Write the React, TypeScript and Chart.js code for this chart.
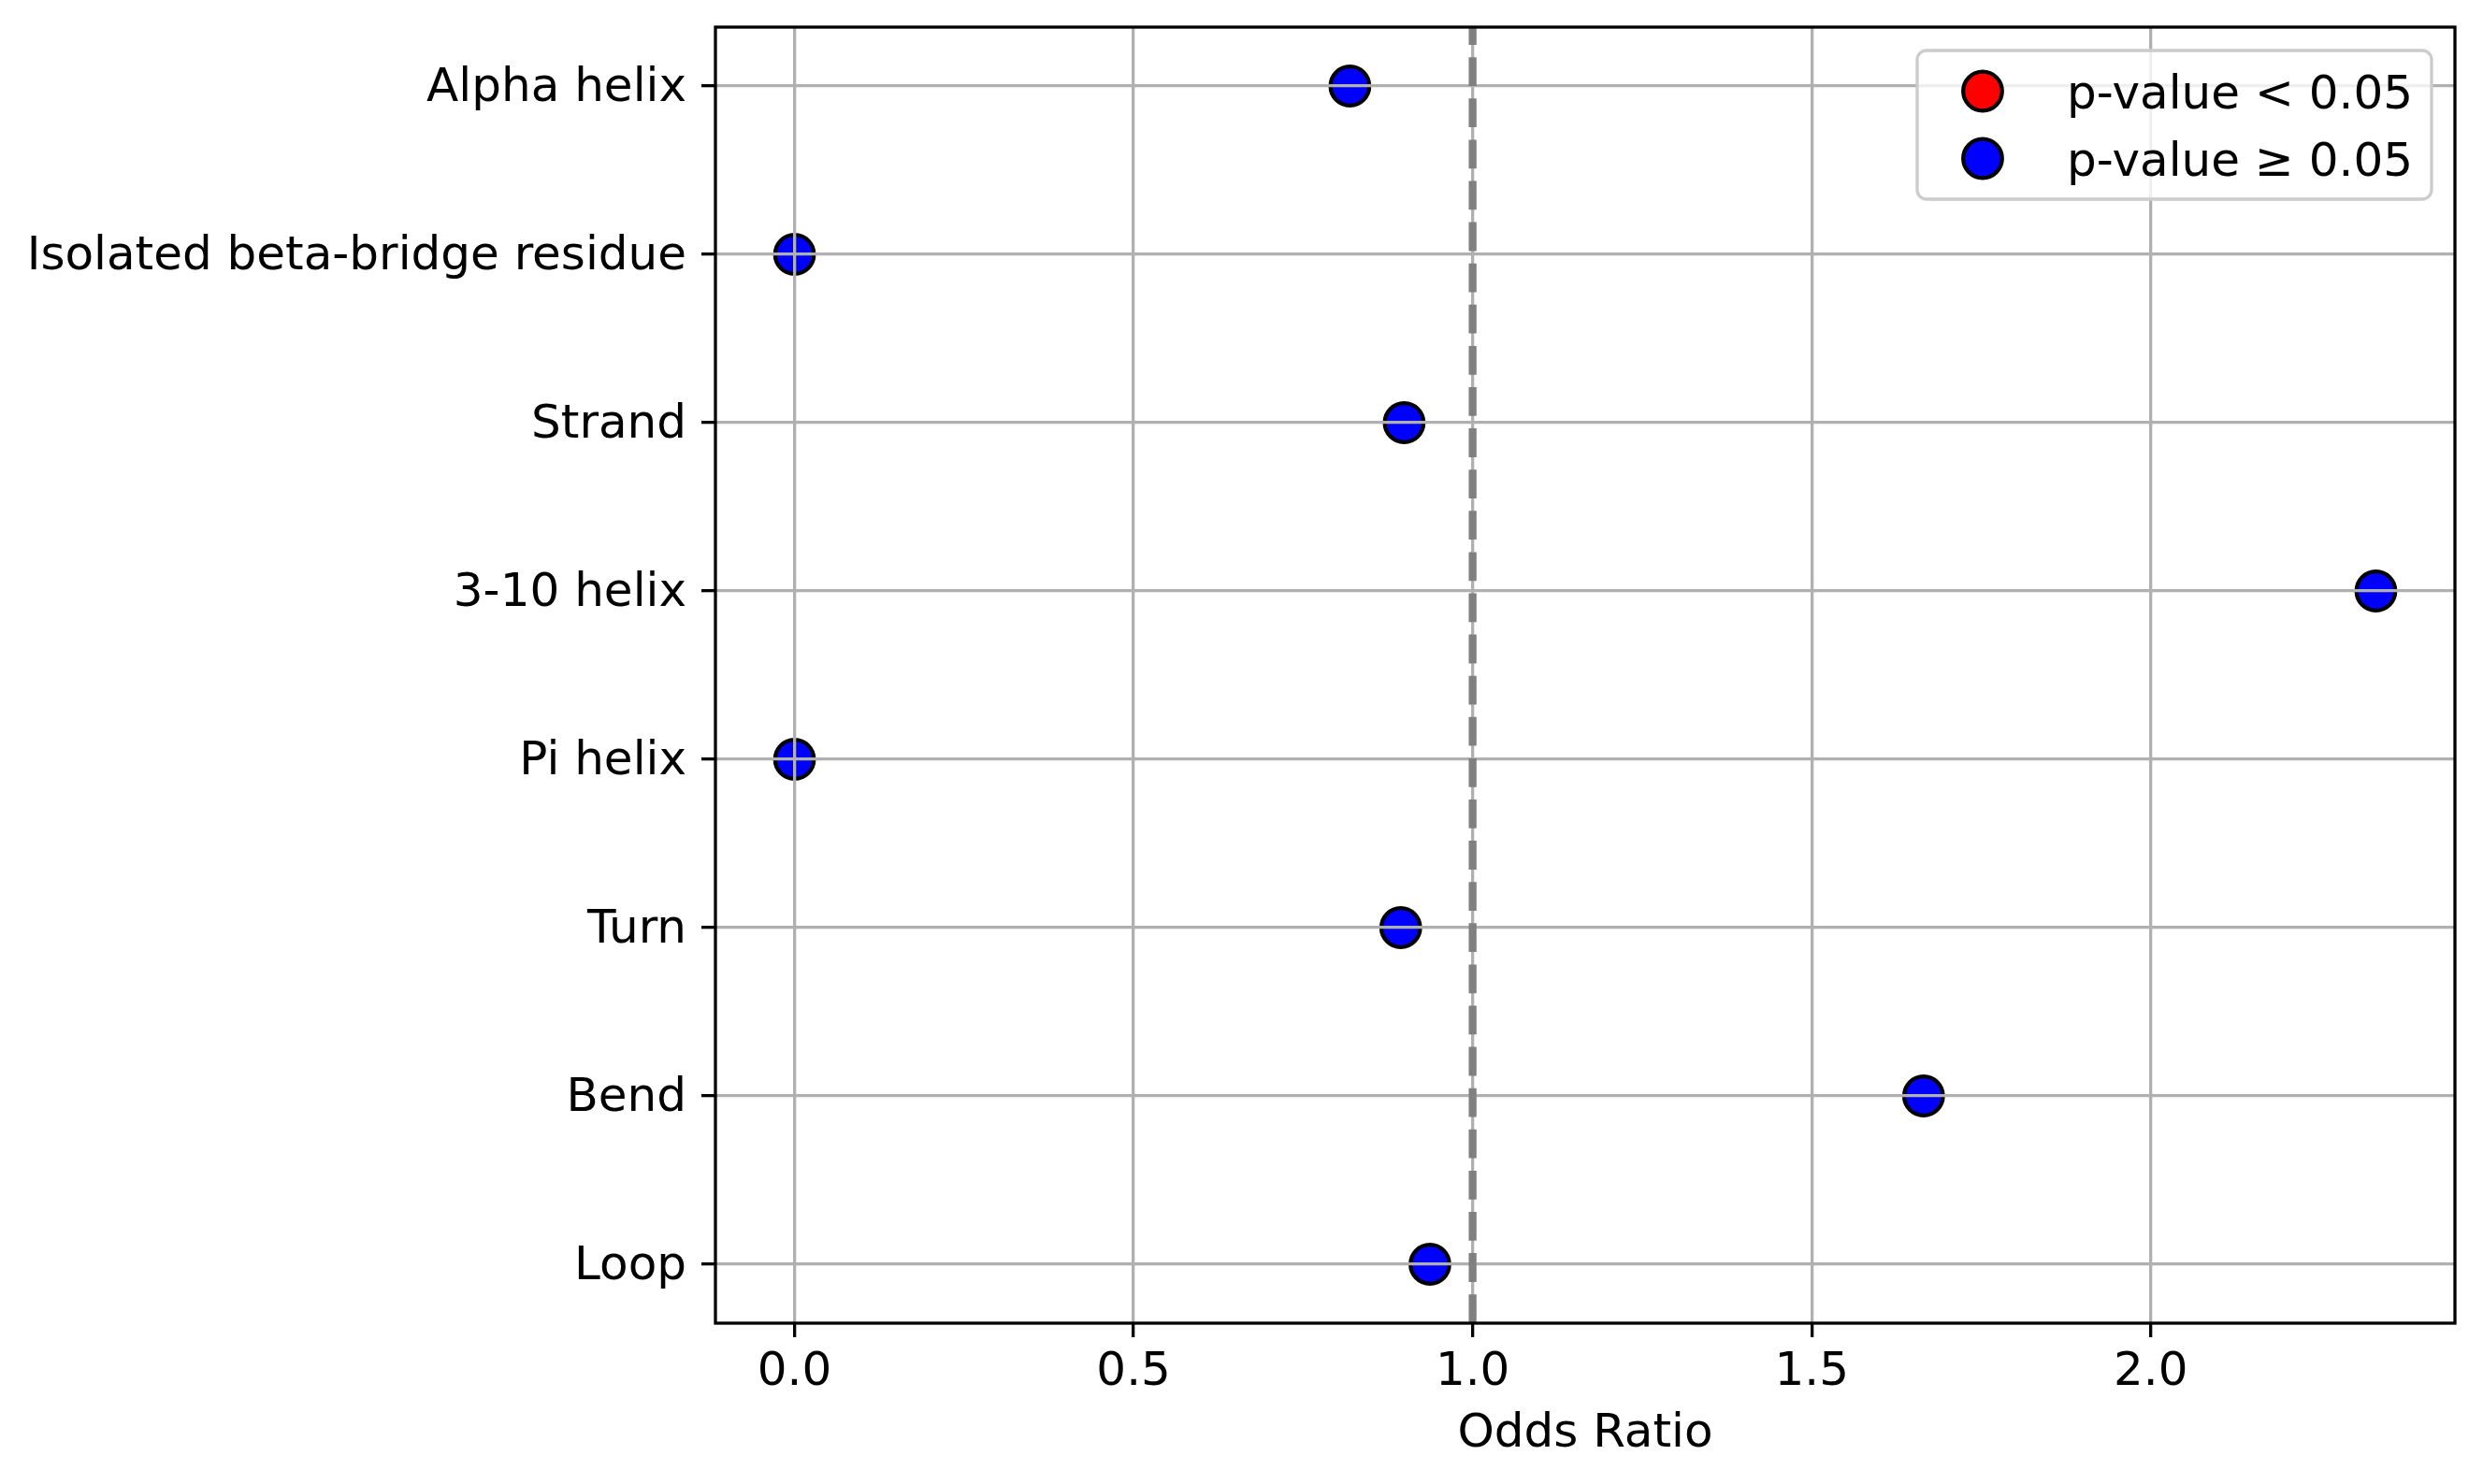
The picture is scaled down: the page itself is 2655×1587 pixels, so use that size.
import { useEffect, useRef } from "react";
import { Chart, registerables } from "chart.js";

Chart.register(...registerables);

// secondary structure categories, top to bottom
const categories = [
    "Alpha helix",
    "Isolated beta-bridge residue",
    "Strand",
    "3-10 helix",
    "Pi helix",
    "Turn",
    "Bend",
    "Loop",
];
const oddsRatios = [0.819, 0, 0.899, 2.332, 0, 0.894, 1.665, 0.937];
const significant = [false, false, false, false, false, false, false, false];
const xTicks = [0, 0.5, 1, 1.5, 2];
const legendLabels = ["p-value < 0.05", "p-value \u2265 0.05"];
const referenceOdds = 1;

const FONT = "'DejaVu Sans', sans-serif";
const FONT_SIZE = 50;
const MARKER_R = 20.8;
const MARKER_BW = 4.2;

const dataMin = Math.min(...oddsRatios);
const dataMax = Math.max(...oddsRatios);
const margin = (dataMax - dataMin) * 0.05;

function pointsFor(flag: boolean) {
    return categories.flatMap((_, i) => (significant[i] === flag ? [{ x: oddsRatios[i], y: i }] : []));
}

const overlayPlugin = {
    id: "overlay",
    afterDraw(chart: any) {
        const { ctx, chartArea } = chart;
        const { left, right, top, bottom } = chartArea;
        const xs = chart.scales.x;

        // dashed reference line at OR = 1
        ctx.save();
        const rx = xs.getPixelForValue(referenceOdds);
        ctx.strokeStyle = "#808080";
        ctx.lineWidth = 8.3;
        ctx.setLineDash([30.8, 13.3]);
        ctx.beginPath();
        ctx.moveTo(rx, bottom);
        ctx.lineTo(rx, top);
        ctx.stroke();
        ctx.restore();

        // axes frame
        ctx.save();
        ctx.strokeStyle = "#000";
        ctx.lineWidth = 3.3;
        ctx.strokeRect(left, top, right - left, bottom - top);
        ctx.restore();

        // legend box in the upper right
        ctx.save();
        ctx.font = `${FONT_SIZE}px ${FONT}`;
        const datasets = chart.data.datasets;
        const textW = Math.max(...datasets.map((d: any) => ctx.measureText(d.label).width));
        const pad = 20;
        const handle = 100;
        const textPad = 40;
        const rowH = 47;
        const gap = 25;
        const w = pad + handle + textPad + textW + pad;
        const h = pad * 2 + rowH * datasets.length + gap * (datasets.length - 1);
        const bx = right - 25 - w;
        const by = top + 25;

        ctx.beginPath();
        ctx.roundRect(bx, by, w, h, 10);
        ctx.fillStyle = "rgba(255,255,255,0.8)";
        ctx.fill();
        ctx.strokeStyle = "#cccccc";
        ctx.lineWidth = 3.3;
        ctx.stroke();

        datasets.forEach((d: any, i: number) => {
            const cy = by + pad + rowH / 2 + i * (rowH + gap);
            const cx = bx + pad + handle / 2;
            ctx.beginPath();
            ctx.arc(cx, cy, MARKER_R, 0, Math.PI * 2);
            ctx.fillStyle = d.backgroundColor;
            ctx.fill();
            ctx.lineWidth = MARKER_BW;
            ctx.strokeStyle = "#000";
            ctx.stroke();

            ctx.fillStyle = "#000";
            ctx.textAlign = "left";
            ctx.textBaseline = "alphabetic";
            ctx.fillText(d.label, bx + pad + handle + textPad, cy + 18);
        });
        ctx.restore();
    },
};

export default function App() {
    const chartRef = useRef<HTMLCanvasElement | null>(null);
    const chartInstance = useRef<Chart | null>(null);

    useEffect(() => {
        if (!chartRef.current) return;
        const ctx = chartRef.current.getContext("2d");
        if (!ctx) return;

        if (chartInstance.current) {
            chartInstance.current.destroy();
        }

        const tickFont = { family: FONT, size: FONT_SIZE };

        chartInstance.current = new Chart(ctx, {
            type: "scatter",
            data: {
                datasets: [
                    {
                        label: legendLabels[0],
                        data: pointsFor(true),
                        backgroundColor: "red",
                        borderColor: "#000",
                        borderWidth: MARKER_BW,
                        pointRadius: MARKER_R,
                        pointHoverRadius: MARKER_R,
                    },
                    {
                        label: legendLabels[1],
                        data: pointsFor(false),
                        backgroundColor: "blue",
                        borderColor: "#000",
                        borderWidth: MARKER_BW,
                        pointRadius: MARKER_R,
                        pointHoverRadius: MARKER_R,
                    },
                ],
            },
            options: {
                animation: false,
                responsive: false,
                devicePixelRatio: 1,
                layout: { padding: { left: 0, right: 30, top: 29, bottom: 0 } },
                plugins: {
                    legend: { display: false },
                    tooltip: { enabled: false },
                },
                scales: {
                    x: {
                        type: "linear",
                        min: dataMin - margin,
                        max: dataMax + margin,
                        afterBuildTicks: (scale: any) => {
                            scale.ticks = xTicks.map(v => ({ value: v }));
                        },
                        afterFit: (scale: any) => {
                            scale.height = 172;
                            scale.paddingLeft = 0;
                            scale.paddingRight = 0;
                        },
                        ticks: {
                            font: tickFont,
                            color: "#000",
                            padding: 8,
                            maxRotation: 0,
                            autoSkip: false,
                            callback: (v: any) => Number(v).toFixed(1),
                        },
                        grid: {
                            color: "#b0b0b0",
                            lineWidth: 3.3,
                            drawTicks: true,
                            tickLength: 15,
                            tickColor: "#000",
                            tickWidth: 3.3,
                            z: 1,
                        },
                        border: { display: false },
                        title: {
                            display: true,
                            text: "Odds Ratio",
                            font: tickFont,
                            color: "#000",
                            padding: { top: 0, bottom: 23 },
                        },
                    },
                    y: {
                        type: "linear",
                        reverse: true,
                        min: -0.35,
                        max: categories.length - 1 + 0.35,
                        afterBuildTicks: (scale: any) => {
                            scale.ticks = categories.map((_, i) => ({ value: i }));
                        },
                        afterFit: (scale: any) => {
                            scale.width = 765;
                            scale.paddingTop = 0;
                            scale.paddingBottom = 0;
                        },
                        ticks: {
                            font: tickFont,
                            color: "#000",
                            padding: 16,
                            labelOffset: 3,
                            autoSkip: false,
                            callback: (v: any) => categories[v],
                        },
                        grid: {
                            color: "#b0b0b0",
                            lineWidth: 3.3,
                            drawTicks: true,
                            tickLength: 15,
                            tickColor: "#000",
                            tickWidth: 3.3,
                            z: 1,
                        },
                        border: { display: false },
                    },
                },
            },
            plugins: [overlayPlugin],
        });

        return () => {
            if (chartInstance.current) {
                chartInstance.current.destroy();
                chartInstance.current = null;
            }
        };
    }, []);

    return (
        <div style={{ position: "fixed", left: 0, top: 0, width: 2655, height: 1587, background: "#fff" }}>
            <canvas ref={chartRef} width={2655} height={1587} style={{ width: 2655, height: 1587 }}></canvas>
        </div>
    );
}
